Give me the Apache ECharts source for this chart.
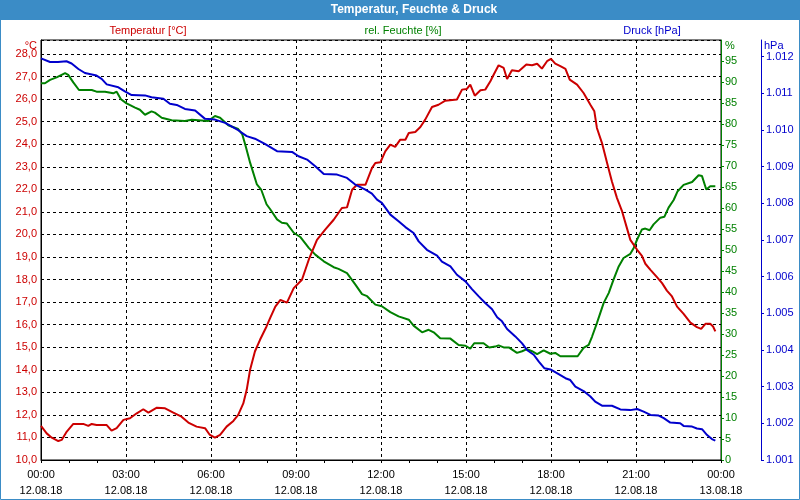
<!DOCTYPE html>
<html>
<head>
<meta charset="utf-8">
<script src="https://cdn.jsdelivr.net/npm/echarts@6/dist/echarts.min.js"></script>
<style>
html,body{margin:0;padding:0;background:#fff;}
#chart{width:800px;height:500px;}
</style>
</head>
<body>
<div id="chart"></div>
<script>
// ---- data (hours since 12.08.18 00:00) ----
var titleText = 'Temperatur, Feuchte & Druck';
var seriesNames = ['Temperatur [°C]', 'rel. Feuchte [%]', 'Druck [hPa]'];
var unitNames = ['°C', '%', 'hPa'];
var xTickHours = [0, 3, 6, 9, 12, 15, 18, 21, 24];
var xTickTimes = ['00:00', '03:00', '06:00', '09:00', '12:00', '15:00', '18:00', '21:00', '00:00'];
var xTickDates = ['12.08.18', '12.08.18', '12.08.18', '12.08.18', '12.08.18', '12.08.18', '12.08.18', '12.08.18', '13.08.18'];

var tempHours = [0,0.2,0.38,0.61,0.73,0.91,1.14,1.49,1.67,1.79,1.96,2.32,2.49,2.67,2.91,3.14,3.38,3.61,3.79,4.09,4.38,4.67,4.96,5.2,5.49,5.79,5.96,6.14,6.32,6.55,6.79,6.96,7.14,7.26,7.38,7.55,7.73,7.96,8.09,8.27,8.45,8.68,8.92,9.21,9.45,9.74,10.03,10.33,10.62,10.8,10.98,11.15,11.45,11.68,11.8,11.98,12.15,12.33,12.5,12.68,12.86,12.98,13.21,13.39,13.56,13.8,14.03,14.27,14.68,14.86,15.03,15.15,15.31,15.51,15.68,15.86,15.98,16.15,16.33,16.45,16.62,16.86,17.13,17.33,17.51,17.68,17.86,18.0,18.15,18.33,18.51,18.66,18.92,19.15,19.39,19.53,19.62,19.8,19.98,20.15,20.33,20.51,20.68,20.8,21.04,21.21,21.33,21.51,21.74,21.92,22.09,22.27,22.45,22.68,22.92,23.15,23.3,23.45,23.62,23.72,23.8];
var tempValues = [11.51,11.18,10.99,10.84,10.89,11.26,11.60,11.60,11.51,11.60,11.55,11.55,11.30,11.41,11.78,11.85,12.07,12.25,12.10,12.32,12.29,12.10,11.92,11.66,11.48,11.41,11.11,10.99,11.11,11.48,11.73,12.0,12.51,13.11,14.0,14.81,15.33,15.92,16.3,16.8,17.1,16.98,17.62,17.99,18.88,19.76,20.21,20.65,21.17,21.2,21.98,22.2,22.2,22.94,23.17,23.2,23.68,23.98,23.88,24.2,24.2,24.5,24.54,24.76,25.09,25.65,25.75,25.93,25.98,26.42,26.45,26.64,26.15,26.39,26.42,26.79,27.09,27.5,27.38,26.89,27.28,27.23,27.53,27.5,27.57,27.35,27.68,27.78,27.57,27.46,27.34,26.86,26.64,26.27,25.75,25.46,24.72,24.05,23.17,22.35,21.61,21.02,20.28,19.76,19.32,19.05,18.7,18.43,18.11,17.84,17.51,17.25,16.8,16.48,16.09,15.89,15.81,16.04,16.04,15.92,15.7];

var humHours = [0,0.14,0.32,0.55,0.85,0.96,1.14,1.34,1.79,1.96,2.26,2.32,2.55,2.67,2.82,3.02,3.32,3.49,3.67,3.9,4.02,4.26,4.61,5.08,5.32,5.55,5.9,6.14,6.32,6.61,6.96,7.1,7.22,7.38,7.62,7.77,7.96,8.09,8.33,8.5,8.68,8.92,9.15,9.45,9.68,9.98,10.33,10.5,10.8,11.09,11.33,11.51,11.8,12.03,12.33,12.62,12.98,13.15,13.45,13.68,13.86,14.09,14.45,14.74,14.98,15.15,15.29,15.62,15.82,16.03,16.15,16.33,16.51,16.8,16.98,17.15,17.33,17.51,17.74,17.98,18.15,18.33,18.68,18.94,19.15,19.33,19.45,19.62,19.86,20.04,20.21,20.39,20.56,20.8,20.92,21.04,21.21,21.33,21.48,21.62,21.86,22.0,22.15,22.33,22.47,22.68,22.98,23.21,23.33,23.48,23.62,23.8];
var humValues = [89.7,89.7,90.5,91.1,92.1,91.7,89.9,88.1,88.1,87.7,87.7,87.3,87.3,87.7,85.9,84.9,83.9,83.4,82.2,83.0,82.7,81.5,80.9,80.7,81.0,80.9,80.7,81.9,81.5,79.7,78.8,77.6,74.8,70.8,65.6,64.4,60.9,59.7,57.3,56.5,56.3,54.1,53.1,50.5,48.9,47.3,45.9,45.5,44.5,41.8,39.5,39.0,37.0,36.6,35.2,34.2,33.4,32.0,30.4,31.0,30.4,29.0,28.9,27.4,27.2,26.5,27.8,27.8,26.8,27.0,27.3,26.8,26.8,25.5,25.9,26.4,25.9,25.2,26.1,25.3,25.5,24.7,24.7,24.7,26.7,27.4,29.4,32.6,37.4,39.8,43.0,46.1,48.1,49.1,50.5,52.5,54.9,55.1,54.7,56.1,57.7,57.9,60.1,61.9,64.0,65.5,66.2,67.8,67.6,64.4,65.2,65.2];

var presHours = [0,0.32,0.6,0.9,1.08,1.32,1.55,1.96,2.14,2.32,2.73,2.96,3.2,3.67,3.9,4.32,4.55,4.79,5.08,5.44,5.79,6.14,6.5,6.96,7.26,7.55,7.9,8.33,8.86,9.09,9.39,9.68,9.98,10.45,10.8,11.09,11.45,11.68,11.86,12.03,12.33,12.62,12.86,13.15,13.33,13.62,13.98,14.15,14.45,14.68,14.98,15.21,15.45,15.68,15.92,16.1,16.27,16.45,16.74,16.98,17.15,17.39,17.57,17.77,17.98,18.27,18.51,18.68,18.86,19.15,19.39,19.56,19.8,20.15,20.45,20.8,21.04,21.27,21.51,21.8,21.98,22.21,22.56,22.68,22.98,23.15,23.33,23.51,23.68,23.8];
var presValues = [1011.95,1011.85,1011.85,1011.87,1011.81,1011.66,1011.55,1011.48,1011.39,1011.24,1011.16,1011.05,1010.95,1010.94,1010.89,1010.85,1010.71,1010.68,1010.57,1010.53,1010.30,1010.28,1010.19,1009.99,1009.83,1009.76,1009.62,1009.42,1009.40,1009.28,1009.19,1009.01,1008.80,1008.78,1008.69,1008.51,1008.37,1008.26,1008.10,1008.01,1007.69,1007.51,1007.35,1007.19,1006.96,1006.73,1006.57,1006.41,1006.28,1006.05,1005.87,1005.66,1005.46,1005.28,1005.11,1004.89,1004.78,1004.57,1004.37,1004.18,1004.0,1003.87,1003.68,1003.50,1003.47,1003.34,1003.23,1003.18,1003.0,1002.88,1002.73,1002.59,1002.48,1002.48,1002.38,1002.36,1002.39,1002.32,1002.23,1002.21,1002.14,1002.02,1002.0,1001.93,1001.91,1001.86,1001.84,1001.68,1001.57,1001.53];

// ---- style ----
var RED = '#cc0000', GREEN = '#008000', BLUE = '#0000cc';
var FONT = 'Liberation Sans';

function pairs(h, v) { return h.map(function (x, i) { return [x, v[i]]; }); }

var chart = echarts.init(document.getElementById('chart'), null, { renderer: 'canvas' });

var option = {
  animation: false,
  backgroundColor: '#ffffff',
  textStyle: { fontFamily: FONT },
  grid: { left: 41, right: 79, top: 40, bottom: 40, show: true, borderColor: '#000', borderWidth: 1, backgroundColor: '#fff' },
  graphic: [
    { type: 'rect', shape: { x: 0, y: 0, width: 800, height: 20 }, style: { fill: '#3b8cc6' }, silent: true },
    { type: 'rect', shape: { x: 0.5, y: 0.5, width: 799, height: 499 }, style: { fill: null, stroke: '#3b8cc6', lineWidth: 1 }, silent: true },
    { type: 'text', x: 414, y: 10, style: { text: titleText, fill: '#fff', font: 'bold 12px ' + FONT, textAlign: 'center', textVerticalAlign: 'middle' } },
    { type: 'text', x: 148, y: 31, style: { text: seriesNames[0], fill: RED, font: '11px ' + FONT, textAlign: 'center', textVerticalAlign: 'middle' } },
    { type: 'text', x: 403, y: 31, style: { text: seriesNames[1], fill: GREEN, font: '11px ' + FONT, textAlign: 'center', textVerticalAlign: 'middle' } },
    { type: 'text', x: 652, y: 31, style: { text: seriesNames[2], fill: BLUE, font: '11px ' + FONT, textAlign: 'center', textVerticalAlign: 'middle' } },
    { type: 'text', x: 37, y: 46, style: { text: unitNames[0], fill: RED, font: '11px ' + FONT, textAlign: 'right', textVerticalAlign: 'middle' } },
    { type: 'text', x: 725, y: 46, style: { text: unitNames[1], fill: GREEN, font: '11px ' + FONT, textAlign: 'left', textVerticalAlign: 'middle' } },
    { type: 'text', x: 764, y: 46, style: { text: unitNames[2], fill: BLUE, font: '11px ' + FONT, textAlign: 'left', textVerticalAlign: 'middle' } }
  ],
  xAxis: {
    type: 'value', min: 0, max: 24, interval: 3,
    axisLine: { show: true, lineStyle: { color: '#000', width: 1 } },
    axisTick: { show: true, length: 3, lineStyle: { color: '#000' } },
    minorTick: { show: true, splitNumber: 3, length: 3, lineStyle: { color: '#000' } },
    splitLine: { show: true, lineStyle: { color: '#000', type: [3, 3], width: 1 } },
    axisLabel: {
      color: '#000', fontSize: 11, lineHeight: 16, margin: 7, fontFamily: FONT,
      formatter: function (v) {
        var i = xTickHours.indexOf(v);
        return i < 0 ? '' : xTickTimes[i] + '\n' + xTickDates[i];
      }
    }
  },
  yAxis: [
    {
      type: 'value', position: 'left', min: 10, max: 28.62, interval: 1,
      axisLine: { show: true, lineStyle: { color: '#000' } },
      axisTick: { show: false },
      splitLine: { show: true, lineStyle: { color: '#000', type: [3, 3], width: 1 } },
      axisLabel: { color: RED, fontSize: 11, margin: 4, fontFamily: FONT, showMaxLabel: false,
        formatter: function (v) { return v.toFixed(1).replace('.', ','); } }
    },
    {
      type: 'value', position: 'right', offset: 0, min: 0, max: 100, interval: 5,
      axisLine: { show: true, lineStyle: { color: GREEN, width: 1 } },
      axisTick: { show: true, inside: false, length: 3, lineStyle: { color: GREEN } },
      splitLine: { show: false },
      axisLabel: { color: GREEN, fontSize: 11, margin: 4, fontFamily: FONT, showMaxLabel: false }
    },
    {
      type: 'value', position: 'right', offset: 40, min: 1001, max: 1012.45, interval: 1,
      axisLine: { show: true, lineStyle: { color: BLUE, width: 1 } },
      axisTick: { show: true, inside: false, length: 3, lineStyle: { color: BLUE } },
      splitLine: { show: false },
      axisLabel: { color: BLUE, fontSize: 11, margin: 5, fontFamily: FONT, showMaxLabel: false,
        formatter: function (v) { return (v / 1000).toFixed(3); } }
    }
  ],
  series: [
    { name: seriesNames[1], type: 'line', yAxisIndex: 1, data: pairs(humHours, humValues), showSymbol: false,
      lineStyle: { color: GREEN, width: 2 }, itemStyle: { color: GREEN } },
    { name: seriesNames[0], type: 'line', yAxisIndex: 0, data: pairs(tempHours, tempValues), showSymbol: false,
      lineStyle: { color: RED, width: 2 }, itemStyle: { color: RED } },
    { name: seriesNames[2], type: 'line', yAxisIndex: 2, data: pairs(presHours, presValues), showSymbol: false,
      lineStyle: { color: BLUE, width: 2 }, itemStyle: { color: BLUE } }
  ]
};
chart.setOption(option);
</script>
</body>
</html>
